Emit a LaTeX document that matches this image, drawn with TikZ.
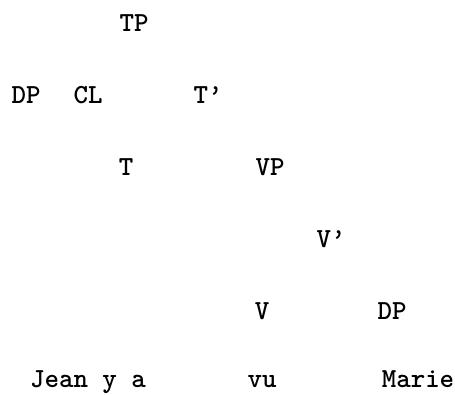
\documentclass[tikz,border=0pt]{standalone}
\usetikzlibrary{positioning}

\begin{document}
\begin{tikzpicture}[
      x=0.5pt, y=-0.5pt,
      cat/.style={inner sep=0pt, anchor=base, font=\fontsize{13.8}{16}\selectfont\ttfamily\bfseries},
      word/.style={cat},
    ]
    \useasboundingbox (0,0) rectangle (455,395);

    \node[cat] (tp) at (134,32) {TP};

    \node[cat] (dp) at (26,104) {DP};
    \node[cat] (cl) at (88,104) {CL};
    \node[cat] (tbar) at (208,104) {T\textquoteright};

    \node[cat] (t) at (126,176) {T};
    \node[cat] (vp) at (270,176) {VP};

    \node[cat] (vbar) at (331,248) {V\textquoteright};

    \node[cat] (v) at (262,320) {V};
    \node[cat] (obj) at (392,320) {DP};

    % leaves: keep the descender of y inside the page
    \node[word] (jean) at (88,387) {Jean y a};
    \node[word] (vu) at (262,387) {vu};
    \node[word] (marie) at (418,387) {Marie};
  \end{tikzpicture}
\end{document}
